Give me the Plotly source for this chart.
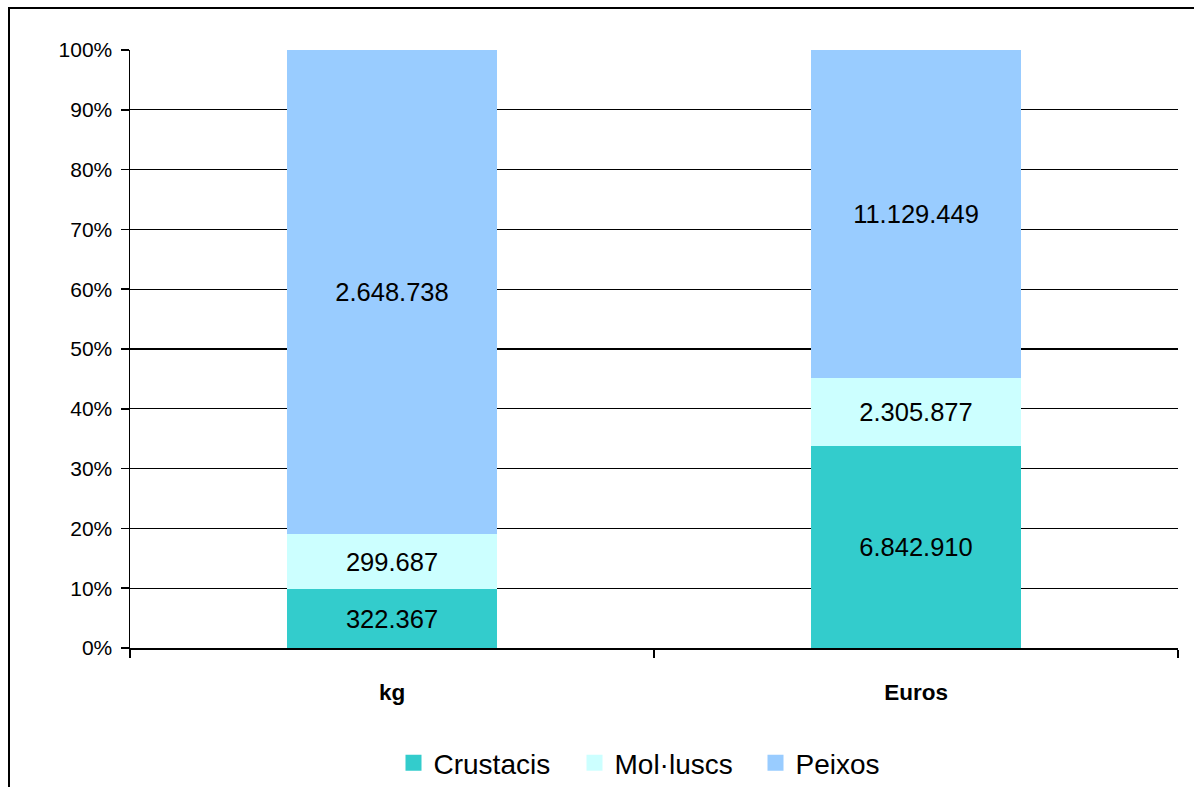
import plotly.graph_objects as go

categories = ["kg", "Euros"]
series_names = ["Crustacis", "Mol·luscs", "Peixos"]
crustacis = [322367, 6842910]
molluscs = [299687, 2305877]
peixos = [2648738, 11129449]
colors = ["#33CCCC", "#CCFFFF", "#99CCFF"]
y_ticks = [0, 10, 20, 30, 40, 50, 60, 70, 80, 90, 100]

W, H = 1194, 787
L, R, T, B = 130, 16, 50, 139
FONT = "Liberation Sans, Arial, sans-serif"


def fmt(v):
    return f"{v:,}".replace(",", ".")


fig = go.Figure()
for name, vals, col in zip(series_names, [crustacis, molluscs, peixos], colors):
    fig.add_trace(go.Bar(
        name=name,
        x=categories,
        y=vals,
        marker=dict(color=col, line=dict(width=0)),
        width=0.4,
        text=[fmt(v) for v in vals],
        textposition="inside",
        insidetextanchor="middle",
        textangle=0,
        textfont=dict(family=FONT, size=25.5, color="black"),
        hoverinfo="skip",
        showlegend=False,
    ))
# legend entries with larger square swatches
for name, col in zip(series_names, colors):
    fig.add_trace(go.Scatter(
        name=name, x=[None], y=[None], mode="markers",
        marker=dict(symbol="square", size=20, color=col),
        showlegend=True, hoverinfo="skip",
    ))

pw = W - L - R
ph = H - T - B

fig.update_layout(
    width=W, height=H,
    margin=dict(l=L, r=R, t=T, b=B, pad=0, autoexpand=False),
    barmode="stack",
    barnorm="percent",
    paper_bgcolor="white",
    plot_bgcolor="white",
    font=dict(family=FONT, color="black"),
    showlegend=True,
    legend=dict(
        orientation="h",
        traceorder="normal",
        x=(665 - L) / pw, xanchor="center",
        y=(H - B - 763) / ph, yanchor="middle",
        font=dict(size=28, color="black"),
        itemwidth=30,
        itemsizing="trace",
        entrywidth=136,
        entrywidthmode="pixels",
        bgcolor="rgba(0,0,0,0)",
    ),
    xaxis=dict(
        type="category",
        range=[-0.5, 1.5],
        tickson="boundaries",
        ticks="outside",
        ticklen=8,
        tickcolor="black",
        tickwidth=1.5,
        showline=True,
        linecolor="black",
        linewidth=2,
        showgrid=False,
        tickfont=dict(size=22.5, color="black", weight="bold"),
        ticklabelstandoff=23,
    ),
    yaxis=dict(
        range=[0, 100],
        tickvals=y_ticks,
        ticktext=[f"{t}%" for t in y_ticks],
        ticks="outside",
        ticklen=8,
        tickcolor="black",
        tickwidth=1.5,
        showline=True,
        linecolor="black",
        linewidth=1.5,
        showgrid=True,
        gridcolor="black",
        gridwidth=1.2,
        zeroline=False,
        tickfont=dict(size=21, color="black"),
        ticklabelstandoff=4,
    ),
    shapes=[
        dict(type="rect", xref="paper", yref="paper",
             x0=(9 - L) / pw, x1=1.3,
             y0=-0.6, y1=(H - B - 8) / ph,
             line=dict(color="black", width=2), fillcolor="rgba(0,0,0,0)",
             layer="below"),
    ],
)

fig.write_html("out.html", config={"displayModeBar": False, "staticPlot": True})

# remove the default page margin so the figure fills the window exactly
with open("out.html", "r", encoding="utf-8") as f:
    html = f.read()
html = html.replace("<head>", "<head><style>html,body{margin:0;padding:0;overflow:hidden;}</style>", 1)
with open("out.html", "w", encoding="utf-8") as f:
    f.write(html)
